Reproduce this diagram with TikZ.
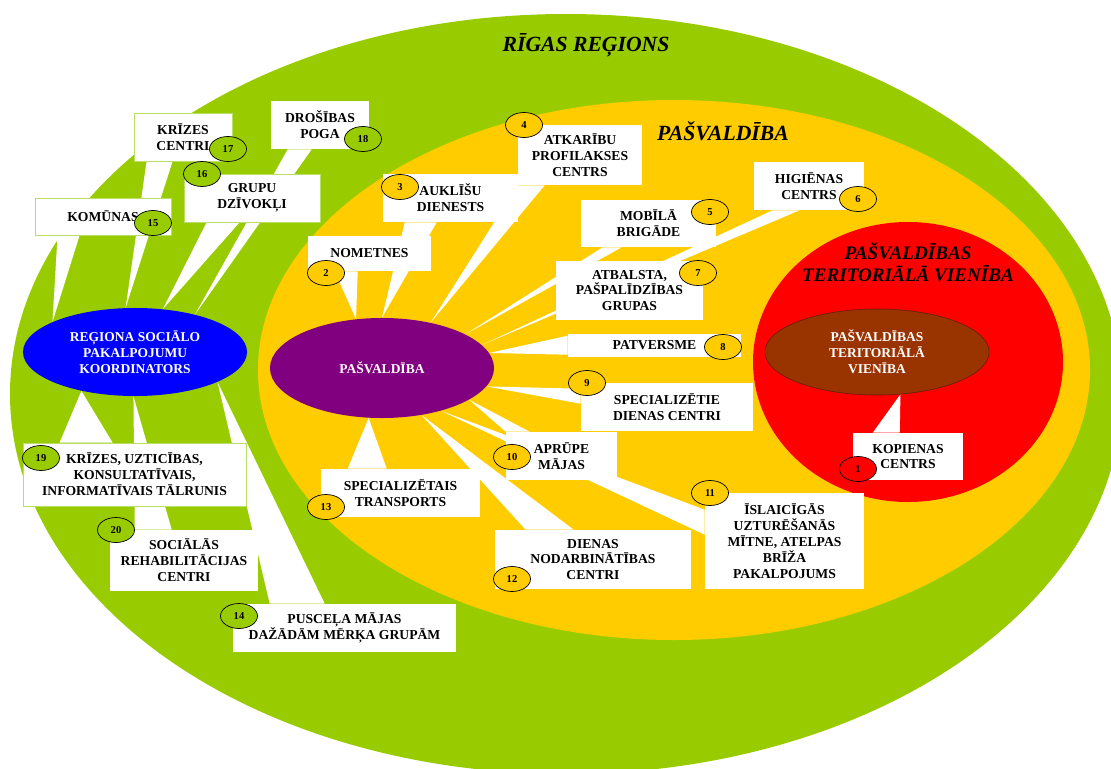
\documentclass[tikz,border=0pt]{standalone}
\usepackage{fontspec}
\setmainfont{Liberation Serif}
\usetikzlibrary{shapes.geometric, calc}

\pgfdeclarelayer{background}
\pgfdeclarelayer{tails}
\pgfsetlayers{background,tails,main}

\definecolor{regiongreen}{HTML}{99CC00}
\definecolor{pasvyellow}{HTML}{FFCC00}
\definecolor{unitred}{HTML}{FF0000}
\definecolor{unitbrown}{HTML}{993300}
\definecolor{pasvpurple}{HTML}{800080}
\definecolor{coordblue}{HTML}{0000FF}
\definecolor{boxline}{HTML}{B8DE66}

\tikzset{
	lbox/.style={rectangle, fill=white, inner sep=0pt, align=center, font=\fontsize{9.7}{11.3}\selectfont\bfseries},
	boxsize/.style 2 args={minimum width=#1*0.025cm, minimum height=#2*0.025cm},
	greenframe/.style={draw=boxline, line width=0.6pt},
	badge/.style={ellipse, draw=black, line width=0.5pt, inner sep=0pt, minimum width=0.925cm, minimum height=0.625cm, font=\fontsize{7.5}{8}\selectfont\bfseries},
	hub/.style={ellipse, inner sep=0pt, align=center, text=white, font=\fontsize{9.6}{11.4}\selectfont\bfseries},
	tail/.style={fill=white},
	title/.style={align=center, font=\fontsize{15.4}{18}\selectfont\bfseries\itshape}
}

\begin{document}
\begin{tikzpicture}[x = 0.025cm, y = -0.025cm]
	\useasboundingbox (0, 0) rectangle (1111, 769);
	\clip (0, 0) rectangle (1111, 769);

	% Regions
	\begin{pgfonlayer}{background}
		\fill[regiongreen] (566, 394) ellipse [x radius=556, y radius=380];
		\fill[pasvyellow] (674, 370) ellipse [x radius=416, y radius=270];
		\fill[unitred] (908, 362) ellipse [x radius=155, y radius=140];
	\end{pgfonlayer}

	\node[title] (rigas) at (586, 45) {RĪGAS REĢIONS};
	\node[title] (pasvtitle) at (723, 131) {PAŠVALDĪBA};
	\node[title, font=\fontsize{13.6}{15.6}\selectfont\bfseries\itshape] (vienibatitle) at (908, 262) {PAŠVALDĪBAS\\TERITORIĀLĀ VIENĪBA};

	% Hubs
	\node[hub, fill=coordblue, minimum width=5.6cm, minimum height=2.2cm] (koord) at (135, 352) {REĢIONA SOCIĀLO\\PAKALPOJUMU\\KOORDINATORS};
	\node[hub, fill=pasvpurple, minimum width=5.6cm, minimum height=2.5cm] (pasv) at (382, 368) {PAŠVALDĪBA};
	\node[hub, fill=unitbrown, draw=unitbrown!60!black, minimum width=5.6cm, minimum height=2.15cm] (vieniba) at (877, 352) {PAŠVALDĪBAS\\TERITORIĀLĀ\\VIENĪBA};

	% Boxes
	\node[lbox, boxsize={110}{47}] (kopienas) at (908, 456.5) {KOPIENAS\\CENTRS};
	\node[lbox, boxsize={123}{35}] (nometnes) at (369.5, 253.5) {NOMETNES};
	\node[lbox, boxsize={135}{48}] (auklisu) at (450.5, 198) {AUKLĪŠU\\DIENESTS};
	\node[lbox, boxsize={124}{60}] (atkaribu) at (580, 155) {ATKARĪBU\\PROFILAKSES\\CENTRS};
	\node[lbox, boxsize={135}{47}] (mobila) at (648.5, 223.5) {MOBĪLĀ\\BRIGĀDE};
	\node[lbox, boxsize={110}{48}] (higienas) at (809, 186) {HIGIĒNAS\\CENTRS};
	\node[lbox, boxsize={147}{59}] (atbalsta) at (629.5, 290.5) {ATBALSTA,\\PAŠPALĪDZĪBAS\\GRUPAS};
	\node[lbox, boxsize={173}{23}] (patversme) at (654.5, 345.5) {PATVERSME};
	\node[lbox, boxsize={172}{48}] (dienascentri) at (667, 407) {SPECIALIZĒTIE\\DIENAS CENTRI};
	\node[lbox, boxsize={111}{48}] (aprupe) at (561.5, 456) {APRŪPE\\MĀJAS};
	\node[lbox, boxsize={159}{96}] (islaicigas) at (784.5, 541) {ĪSLAICĪGĀS\\UZTURĒŠANĀS\\MĪTNE, ATELPAS\\BRĪŽA\\PAKALPOJUMS};
	\node[lbox, boxsize={196}{59}] (nodarbinatiba) at (593, 559.5) {DIENAS\\NODARBINĀTĪBAS\\CENTRI};
	\node[lbox, boxsize={159}{48}] (transports) at (400.5, 493) {SPECIALIZĒTAIS\\TRANSPORTS};
	\node[lbox, boxsize={223}{48}] (puscela) at (344.5, 628) {PUSCEĻA MĀJAS\\DAŽĀDĀM MĒRĶA GRUPĀM};
	\node[lbox, greenframe, boxsize={136}{37}] (komunas) at (103, 216.5) {KOMŪNAS};
	\node[lbox, greenframe, boxsize={136}{48}] (grupu) at (252, 198) {GRUPU\\DZĪVOKĻI};
	\node[lbox, greenframe, boxsize={98}{48}] (krizes) at (183, 137) {KRĪZES\\CENTRI};
	\node[lbox, boxsize={98}{48}] (drosibas) at (320, 125) {DROŠĪBAS\\POGA};
	\node[lbox, greenframe, boxsize={223}{63}] (talrunis) at (134.5, 474.5) {KRĪZES, UZTICĪBAS,\\KONSULTATĪVAIS,\\INFORMATĪVAIS TĀLRUNIS};
	\node[lbox, boxsize={148}{61}] (rehab) at (184, 560.5) {SOCIĀLĀS\\REHABILITĀCIJAS\\CENTRI};

	% Badges
	\node[badge, fill=unitred] (n1) at (858, 469) {1};
	\node[badge, fill=pasvyellow] (n2) at (326, 273) {2};
	\node[badge, fill=pasvyellow] (n3) at (400, 187) {3};
	\node[badge, fill=pasvyellow] (n4) at (524, 125) {4};
	\node[badge, fill=pasvyellow] (n5) at (710, 212) {5};
	\node[badge, fill=pasvyellow] (n6) at (858, 199) {6};
	\node[badge, fill=pasvyellow] (n7) at (698, 273) {7};
	\node[badge, fill=pasvyellow] (n8) at (723, 347) {8};
	\node[badge, fill=pasvyellow] (n9) at (587, 383) {9};
	\node[badge, fill=pasvyellow] (n10) at (512, 457) {10};
	\node[badge, fill=pasvyellow] (n11) at (710, 493) {11};
	\node[badge, fill=pasvyellow] (n12) at (512, 579) {12};
	\node[badge, fill=pasvyellow] (n13) at (326, 507) {13};
	\node[badge, fill=regiongreen] (n14) at (239, 616) {14};
	\node[badge, fill=regiongreen] (n15) at (153, 223) {15};
	\node[badge, fill=regiongreen] (n16) at (202, 174) {16};
	\node[badge, fill=regiongreen] (n17) at (228, 149) {17};
	\node[badge, fill=regiongreen] (n18) at (363, 139) {18};
	\node[badge, fill=regiongreen] (n19) at (41, 458) {19};
	\node[badge, fill=regiongreen] (n20) at (116, 530) {20};

	% Tails
	\begin{pgfonlayer}{tails}
		\fill[tail] ($(kopienas.north west)+(20,0)$) -- ($(kopienas.north west)+(47,0)$) -- (vieniba.-61) -- cycle;
		\fill[tail] ($(nometnes.south west)+(27,0)$) -- ($(nometnes.south west)+(50,0)$) -- (pasv.118) -- cycle;
		\fill[tail] ($(auklisu.south west)+(22,0)$) -- ($(auklisu.south west)+(54,0)$) -- (pasv.90) -- cycle;
		\fill[tail] ($(atkaribu.south west)+(0,0)$) -- ($(atkaribu.south west)+(27,0)$) -- (pasv.43) -- cycle;
		\fill[tail] ($(mobila.south west)+(22,0)$) -- ($(mobila.south west)+(41,0)$) -- (pasv.22) -- cycle;
		\fill[tail] ($(higienas.south west)+(19,0)$) -- ($(higienas.south west)+(46,0)$) -- (pasv.13) -- cycle;
		\fill[tail] ($(patversme.north west)+(0,2)$) -- ($(patversme.north west)+(0,21)$) -- (pasv.8) -- cycle;
		\fill[tail] ($(dienascentri.north west)+(0,6)$) -- ($(dienascentri.north west)+(0,21)$) -- (pasv.-10) -- cycle;
		\fill[tail] ($(aprupe.north west)+(0,0)$) -- ($(aprupe.north west)+(24,0)$) -- (pasv.-20) -- cycle;
		\fill[tail] ($(islaicigas.north west)+(0,17)$) -- ($(islaicigas.north west)+(0,42)$) -- (pasv.-36) -- cycle;
		\fill[tail] ($(nodarbinatiba.north west)+(31,0)$) -- ($(nodarbinatiba.north west)+(79,0)$) -- (pasv.-50) -- cycle;
		\fill[tail] ($(transports.north west)+(27,0)$) -- ($(transports.north west)+(66,0)$) -- (pasv.-105) -- cycle;
		\fill[tail] ($(puscela.north west)+(37,0)$) -- ($(puscela.north west)+(92,0)$) -- (koord.-20) -- cycle;
		\fill[tail] ($(komunas.south west)+(23,0)$) -- ($(komunas.south west)+(45,0)$) -- (koord.160) -- cycle;
		\fill[tail] ($(grupu.south west)+(23,0)$) -- ($(grupu.south west)+(56,0)$) -- (koord.57) -- cycle;
		\fill[tail] ($(krizes.south west)+(13,0)$) -- ($(krizes.south west)+(39,0)$) -- (koord.102) -- cycle;
		\fill[tail] ($(drosibas.south west)+(17,0)$) -- ($(drosibas.south west)+(41,0)$) -- (koord.32) -- cycle;
		\fill[tail] ($(talrunis.north west)+(37,0)$) -- ($(talrunis.north west)+(90,0)$) -- (koord.-144) -- cycle;
		\fill[tail] ($(rehab.north west)+(25,0)$) -- ($(rehab.north west)+(62,0)$) -- (koord.-92) -- cycle;
	\end{pgfonlayer}
\end{tikzpicture}
\end{document}
